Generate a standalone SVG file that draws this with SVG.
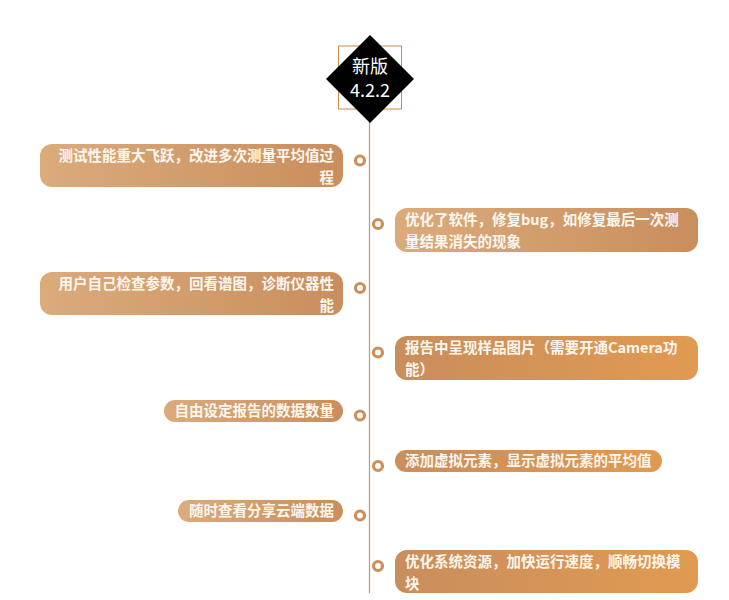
<svg xmlns="http://www.w3.org/2000/svg" width="729" height="600" viewBox="0 0 729 600">
<defs>
<linearGradient id="gTan" x1="0" y1="0" x2="1" y2="0">
<stop offset="0" stop-color="#dbab7c"/>
<stop offset="1" stop-color="#c98e5d"/>
</linearGradient>
<linearGradient id="gOrange" x1="0" y1="0" x2="1" y2="0">
<stop offset="0" stop-color="#c98e5d"/>
<stop offset="1" stop-color="#e19a51"/>
</linearGradient>
<style>
.pt{fill:url(#gTan)}
.po{fill:url(#gOrange)}
.dot{fill:#fff;stroke:#cc8f5c;stroke-width:3.2}
.t{font-family:"Noto Sans CJK SC","Microsoft YaHei",sans-serif;font-size:14.5px;font-weight:bold;fill:#fdf6ee}
.r{text-anchor:end}
.h{font-family:"Noto Sans CJK SC","Microsoft YaHei",sans-serif;font-size:18px;fill:#fff;text-anchor:middle}
</style>
</defs>
<rect width="729" height="600" fill="#fff"/>
<g id="connectors">
<line x1="369.5" y1="105" x2="369.5" y2="593" stroke="#c8956a" stroke-width="1.2"/>
</g>
<g id="title">
<rect x="338.5" y="46" width="63" height="63" fill="none" stroke="#c98a4f" stroke-width="1"/>
<polygon points="370,35 414,79 370,123 326,79" fill="#000"/>
<text class="h" x="370" y="73">新版</text>
<text class="h" x="370" y="97">4.2.2</text>
</g>
<g id="item1">
<rect class="pt" x="40" y="144" width="303" height="43" rx="12"/>
<circle class="dot" cx="360" cy="160.5" r="4.5"/>
<text class="t r" x="334" y="161">测试性能重大飞跃，改进多次测量平均值过</text>
<text class="t r" x="334" y="183">程</text>
</g>
<g id="item2">
<rect class="pt" x="395" y="208" width="303" height="44" rx="12"/>
<circle class="dot" cx="378" cy="224" r="4.5"/>
<text class="t" x="405" y="225">优化了软件，修复bug，如修复最后一次测</text>
<text class="t" x="405" y="247">量结果消失的现象</text>
</g>
<g id="item3">
<rect class="pt" x="40" y="272" width="303" height="43" rx="12"/>
<circle class="dot" cx="360" cy="288" r="4.5"/>
<text class="t r" x="334" y="289">用户自己检查参数，回看谱图，诊断仪器性</text>
<text class="t r" x="334" y="311">能</text>
</g>
<g id="item4">
<rect class="po" x="395" y="336" width="303" height="44" rx="12"/>
<circle class="dot" cx="378" cy="352.5" r="4.5"/>
<text class="t" x="405" y="353">报告中呈现样品图片（需要开通Camera功</text>
<text class="t" x="405" y="375">能）</text>
</g>
<g id="item5">
<rect class="pt" x="164" y="400" width="179" height="22" rx="11"/>
<circle class="dot" cx="360" cy="415.5" r="4.5"/>
<text class="t r" x="334" y="416">自由设定报告的数据数量</text>
</g>
<g id="item6">
<rect class="po" x="395" y="450" width="267" height="22" rx="11"/>
<circle class="dot" cx="378" cy="466" r="4.5"/>
<text class="t" x="405" y="466">添加虚拟元素，显示虚拟元素的平均值</text>
</g>
<g id="item7">
<rect class="pt" x="178" y="500" width="165" height="22" rx="11"/>
<circle class="dot" cx="360" cy="515.5" r="4.5"/>
<text class="t r" x="334" y="516">随时查看分享云端数据</text>
</g>
<g id="item8">
<rect class="po" x="395" y="550" width="303" height="43" rx="12"/>
<circle class="dot" cx="378" cy="566" r="4.5"/>
<text class="t" x="405" y="567">优化系统资源，加快运行速度，顺畅切换模</text>
<text class="t" x="405" y="589">块</text>
</g>
</svg>
